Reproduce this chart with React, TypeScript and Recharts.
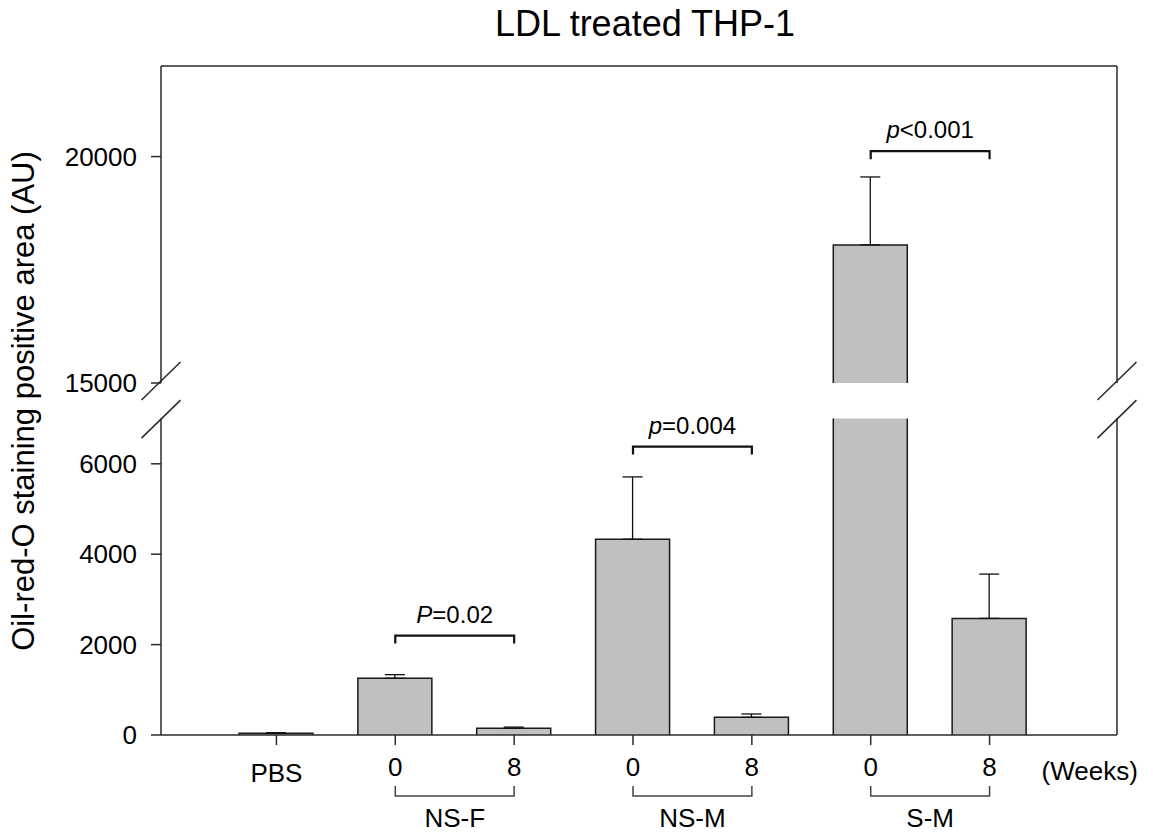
import React from 'react';
import { BarChart, Bar, XAxis, YAxis, ErrorBar, ReferenceLine } from 'recharts';

// groups on the x axis (Weeks 0 / 8 per donor group)
const categories = ['PBS', 'NS-F 0', 'NS-F 8', 'NS-M 0', 'NS-M 8', 'S-M 0', 'S-M 8'];
const tickLabels = ['PBS', '0', '8', '0', '8', '0', '8'];
const groupStarts = [null, 'NS-F', null, 'NS-M', null, 'S-M', null];

// Oil-red-O staining positive area (AU), mean and upper error
const means = [40, 1255, 150, 4330, 390, 18050, 2580];
const errors = [10, 80, 25, 1380, 75, 1500, 980];

// axis break
const lowerDomain = [0, 7000];
const upperDomain = [15000, 22000];
const lowerTicks = [0, 2000, 4000, 6000];
const upperTicks = [15000, 20000];

// significance brackets
const brackets = [
  { from: 'NS-F 0', to: 'NS-F 8', y: 2200, italic: 'P', rest: '=0.02' },
  { from: 'NS-M 0', to: 'NS-M 8', y: 6380, italic: 'p', rest: '=0.004' },
  { from: 'S-M 0', to: 'S-M 8', y: 20120, italic: 'p', rest: '<0.001' },
];

const FONT = "Arial, 'Liberation Sans', Helvetica, sans-serif";
const AXIS = '#2a2a2a';
const BAR_FILL = '#c0c0c0';

const W = 1153;
const PLOT_LEFT = 161;
const PLOT_RIGHT = 1117;
const UPPER_H = 400;
const UPPER_TOP = 66;
const UPPER_BOTTOM = 383;
const LOWER_OFFSET = 400;
const LOWER_H = 436;
const LOWER_TOP = 418.6;
const LOWER_BOTTOM = 735;
const X_PADDING = { left: 56, right: 68 };

const lowerData = categories.map((cat, i) => ({
  cat,
  value: means[i],
  err: means[i] <= lowerDomain[1] ? [0, errors[i]] : null,
}));

const upperData = categories.map((cat, i) => ({
  cat,
  value: means[i] > upperDomain[0] ? means[i] : null,
  err: means[i] > upperDomain[0] ? [0, errors[i]] : null,
}));

// bar drawn with an open bottom so the broken bar looks cut
const BarShape = (props: any) => {
  const { x, y, width, height } = props;
  if (![x, y, width, height].every(Number.isFinite) || height <= 0) return <g />;
  return (
    <g>
      <rect x={x} y={y} width={width} height={height} fill={BAR_FILL} />
      <path
        d={`M${x},${y + height} V${y} H${x + width} V${y + height}`}
        fill="none"
        stroke="#1a1a1a"
        strokeWidth={1.5}
      />
    </g>
  );
};

const bracketShape = (b: typeof brackets[number]) => (props: any) => {
  const { x1, y1, x2, y2 } = props;
  return (
    <g>
      <path
        d={`M${x1},${y1 + 8} V${y1} H${x2} V${y2 + 8}`}
        fill="none"
        stroke="#111"
        strokeWidth={2.2}
      />
      <text x={(x1 + x2) / 2} y={y1 - 13} textAnchor="middle" fontSize={24} fontFamily={FONT} fill="#000">
        <tspan fontStyle="italic">{b.italic}</tspan>
        {b.rest}
      </text>
    </g>
  );
};

const WeekTick = (props: any) => {
  const { x, y, payload } = props;
  const i = categories.indexOf(payload.value);
  const label = tickLabels[i];
  const group = groupStarts[i];
  const step = 2 * (payload.offset ?? 59.4);
  return (
    <g>
      <text x={x} y={y + (label === 'PBS' ? 37 : 31)} textAnchor="middle" fontSize={26} fontFamily={FONT} fill="#000">
        {label}
      </text>
      {group && (
        <>
          <path
            d={`M${x},${y + 41} V${y + 51} H${x + step} V${y + 41}`}
            fill="none"
            stroke="#444"
            strokeWidth={1.5}
          />
          <text x={x + step / 2} y={y + 82} textAnchor="middle" fontSize={26} fontFamily={FONT} fill="#000">
            {group}
          </text>
        </>
      )}
      {i === categories.length - 1 && (
        <text x={x + 52} y={y + 35} textAnchor="start" fontSize={26} fontFamily={FONT} fill="#000">
          (Weeks)
        </text>
      )}
    </g>
  );
};

const axisLine = { stroke: AXIS, strokeWidth: 1.5 };
const yTick = { fontSize: 26, fill: '#000', fontFamily: FONT };

function BreakMark({ x, y }: { x: number; y: number }) {
  return <line x1={x - 19.5} y1={y + 19} x2={x + 19.5} y2={y - 19} stroke={AXIS} strokeWidth={1.5} />;
}

export default function App() {
  return (
    <div style={{ position: 'absolute', left: 0, top: 0, width: W, height: 836, background: '#fff' }}>
      <div style={{ position: 'absolute', left: 0, top: 0 }}>
        <BarChart
          width={W}
          height={UPPER_H}
          data={upperData}
          margin={{ top: UPPER_TOP, right: W - PLOT_RIGHT, bottom: UPPER_H - UPPER_BOTTOM, left: 0 }}
          barSize={74}
        >
          <XAxis dataKey="cat" hide padding={X_PADDING} />
          <YAxis
            type="number"
            domain={upperDomain}
            ticks={upperTicks}
            interval={0}
            allowDataOverflow
            width={PLOT_LEFT}
            tickSize={10}
            tickMargin={14}
            tick={yTick}
            tickLine={axisLine}
            axisLine={axisLine}
          />
          <Bar dataKey="value" shape={BarShape} isAnimationActive={false}>
            <ErrorBar dataKey="err" direction="y" width={10} stroke="#111" strokeWidth={1.3} />
          </Bar>
          {brackets
            .filter((b) => b.y > upperDomain[0])
            .map((b) => (
              <ReferenceLine key={b.from} segment={[{ x: b.from, y: b.y }, { x: b.to, y: b.y }]} shape={bracketShape(b)} />
            ))}
        </BarChart>
      </div>

      <div style={{ position: 'absolute', left: 0, top: LOWER_OFFSET }}>
        <BarChart
          width={W}
          height={LOWER_H}
          data={lowerData}
          margin={{ top: LOWER_TOP - LOWER_OFFSET, right: W - PLOT_RIGHT, bottom: 0, left: 0 }}
          barSize={74}
        >
          <XAxis
            dataKey="cat"
            height={101}
            padding={X_PADDING}
            interval={0}
            tickSize={10}
            tickMargin={0}
            tick={<WeekTick />}
            tickLine={axisLine}
            axisLine={axisLine}
          />
          <YAxis
            type="number"
            domain={lowerDomain}
            ticks={lowerTicks}
            interval={0}
            allowDataOverflow
            width={PLOT_LEFT}
            tickSize={10}
            tickMargin={14}
            tick={yTick}
            tickLine={axisLine}
            axisLine={axisLine}
          />
          <Bar dataKey="value" shape={BarShape} isAnimationActive={false}>
            <ErrorBar dataKey="err" direction="y" width={10} stroke="#111" strokeWidth={1.3} />
          </Bar>
          {brackets
            .filter((b) => b.y <= lowerDomain[1])
            .map((b) => (
              <ReferenceLine key={b.from} segment={[{ x: b.from, y: b.y }, { x: b.to, y: b.y }]} shape={bracketShape(b)} />
            ))}
        </BarChart>
      </div>

      <svg
        width={W}
        height={836}
        style={{ position: 'absolute', left: 0, top: 0, pointerEvents: 'none' }}
      >
        <text x={645} y={36} textAnchor="middle" fontSize={36} fontFamily={FONT} fill="#000">
          LDL treated THP-1
        </text>
        <text
          transform="translate(34,401) rotate(-90)"
          textAnchor="middle"
          fontSize={31}
          fontFamily={FONT}
          fill="#000"
        >
          Oil-red-O staining positive area (AU)
        </text>
        {/* frame: top edge and right edge (broken) */}
        <line x1={PLOT_LEFT} y1={UPPER_TOP} x2={PLOT_RIGHT} y2={UPPER_TOP} stroke={AXIS} strokeWidth={1.5} />
        <line x1={PLOT_RIGHT} y1={UPPER_TOP} x2={PLOT_RIGHT} y2={UPPER_BOTTOM} stroke={AXIS} strokeWidth={1.5} />
        <line x1={PLOT_RIGHT} y1={LOWER_TOP} x2={PLOT_RIGHT} y2={LOWER_BOTTOM} stroke={AXIS} strokeWidth={1.5} />
        <BreakMark x={PLOT_LEFT} y={UPPER_BOTTOM - 2} />
        <BreakMark x={PLOT_LEFT} y={LOWER_TOP + 0.5} />
        <BreakMark x={PLOT_RIGHT} y={UPPER_BOTTOM - 2} />
        <BreakMark x={PLOT_RIGHT} y={LOWER_TOP + 0.5} />
      </svg>
    </div>
  );
}
